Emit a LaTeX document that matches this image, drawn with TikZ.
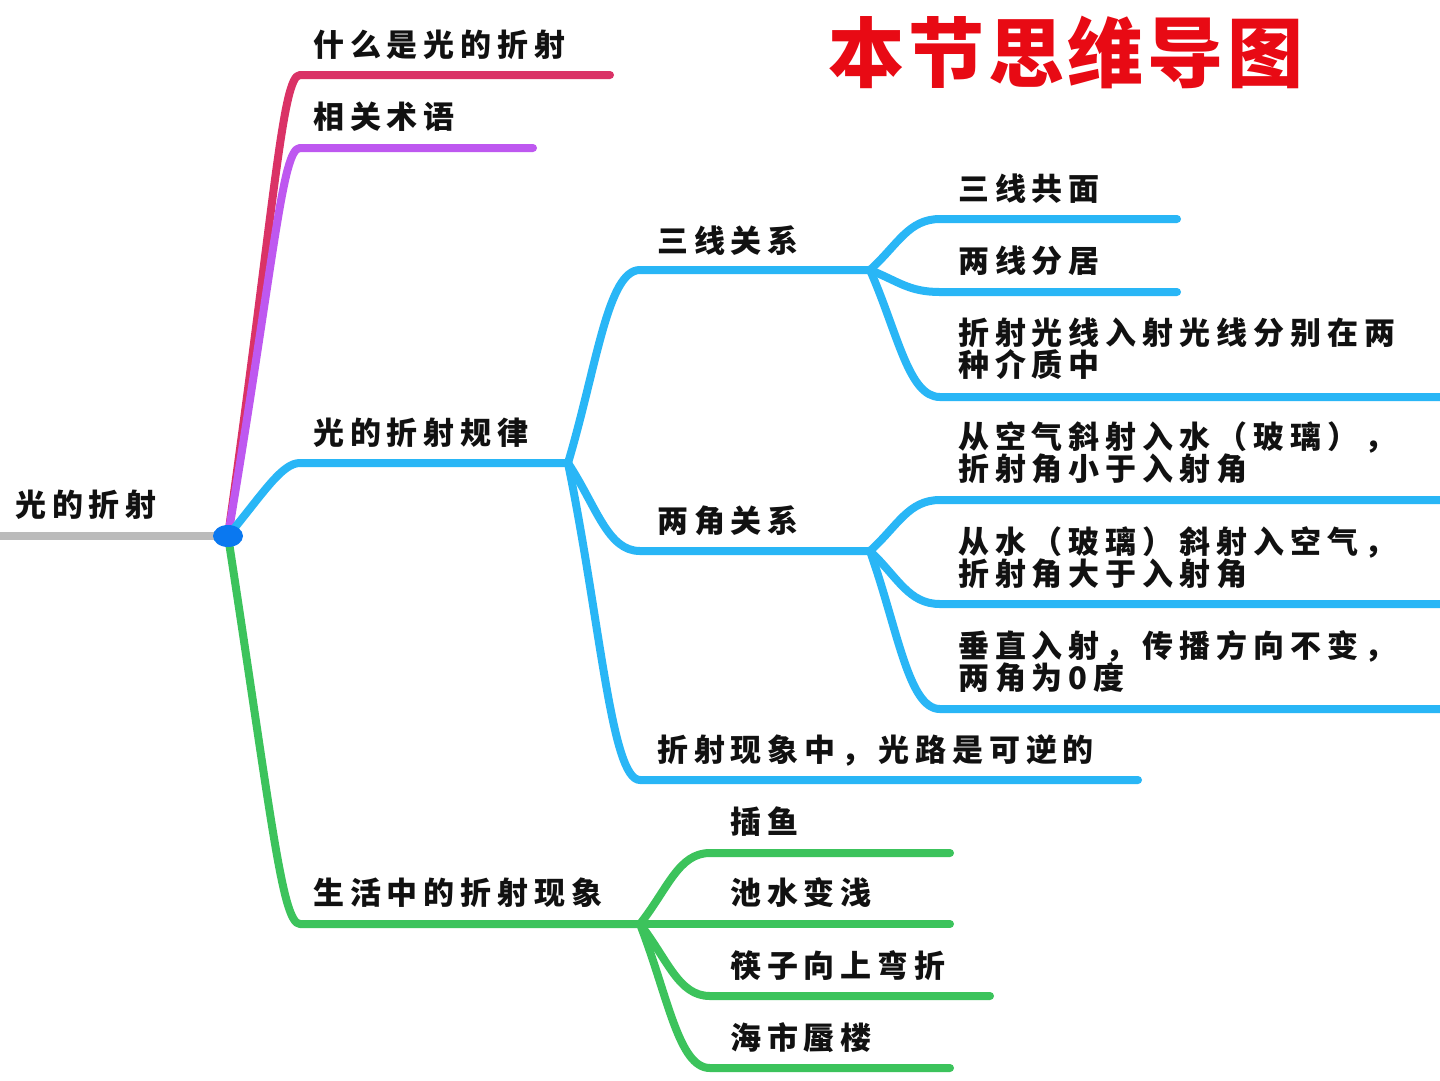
\documentclass[tikz,border=0pt]{standalone}
\usepackage{fontspec}
\usetikzlibrary{calc,shapes.geometric}
\newfontfamily\cjk[LetterSpace=19]{Noto Sans CJK SC}
\newfontfamily\cjktitle[LetterSpace=5]{Noto Sans CJK SC}
\definecolor{cred}{RGB}{218,50,102}
\definecolor{cpurple}{RGB}{190,88,240}
\definecolor{cblue}{RGB}{41,182,246}
\definecolor{cgreen}{RGB}{60,195,92}
\definecolor{cgray}{RGB}{187,187,187}
\definecolor{cdot}{RGB}{10,120,240}
\definecolor{ctitle}{RGB}{232,10,20}
\definecolor{ctext}{RGB}{17,17,17}
\tikzset{
  br/.style={line width=8pt, line cap=round, line join=round},
  lbl/.style={anchor=west, inner sep=0pt, font=\cjk\bfseries\fontsize{31}{32}\selectfont, align=left, text=ctext},
  rootdot/.style={ellipse, fill=cdot, minimum width=30pt, minimum height=22pt, inner sep=0pt},
}
\newcommand\mmbranch[7]{%
  \draw[br,#1] let \p1=(#2), \p2=(#3) in (#2) .. controls ({\x1+#5*(\x2-\x1)},{\y1+#6*(\y2-\y1)}) and ({\x1+#7*(\x2-\x1)},{\y2}) .. (#3) -- (#4);}
\begin{document}
\begin{tikzpicture}[x=1pt,y=-1pt]
\useasboundingbox (0,0) rectangle (1440,1080);
\fill[white] (0,0) rectangle (1440,1080);
% coordinates
\coordinate (root) at (228,536);
\coordinate (L0) at (0,536);
\coordinate (a1) at (300,75);   \coordinate (a1e) at (610,75);
\coordinate (a2) at (300,148);  \coordinate (a2e) at (533,148);
\coordinate (a3) at (300,463);  \coordinate (a3e) at (568,463);
\coordinate (a4) at (300,924);  \coordinate (a4e) at (640,924);
\coordinate (b1) at (640,270);  \coordinate (b1e) at (870,270);
\coordinate (b2) at (640,551);  \coordinate (b2e) at (870,551);
\coordinate (b3) at (640,780);  \coordinate (b3e) at (1138,780);
\coordinate (c1) at (940,219);  \coordinate (c1e) at (1177,219);
\coordinate (c2) at (940,292);  \coordinate (c2e) at (1177,292);
\coordinate (c3) at (940,397);  \coordinate (c3e) at (1440,397);
\coordinate (c4) at (940,500);  \coordinate (c4e) at (1440,500);
\coordinate (c5) at (940,604);  \coordinate (c5e) at (1440,604);
\coordinate (c6) at (940,709);  \coordinate (c6e) at (1440,709);
\coordinate (g1) at (710,853);  \coordinate (g1e) at (950,853);
\coordinate (g2e) at (950,924);
\coordinate (g3) at (710,996);  \coordinate (g3e) at (990,996);
\coordinate (g4) at (710,1068); \coordinate (g4e) at (950,1068);
% lines
\draw[line width=8pt, cgray] (L0) -- (root);
\mmbranch{cred}{root}{a1}{a1e}{0.65}{0.72}{0.75}
\mmbranch{cpurple}{root}{a2}{a2e}{0.65}{0.72}{0.75}
\mmbranch{cblue}{root}{a3}{a3e}{0.5}{0.6}{0.75}
\mmbranch{cgreen}{root}{a4}{a4e}{0.6}{0.72}{0.75}
% blue sub
\mmbranch{cblue}{a3e}{b1}{b1e}{0.4}{0.5}{0.55}
\mmbranch{cblue}{a3e}{b2}{b2e}{0.4}{0.5}{0.55}
\mmbranch{cblue}{a3e}{b3}{b3e}{0.45}{0.5}{0.6}
\mmbranch{cblue}{b1e}{c1}{c1e}{0.4}{0.5}{0.55}
\mmbranch{cblue}{b1e}{c2}{c2e}{0.4}{0.5}{0.55}
\mmbranch{cblue}{b1e}{c3}{c3e}{0.4}{0.5}{0.55}
\mmbranch{cblue}{b2e}{c4}{c4e}{0.4}{0.5}{0.55}
\mmbranch{cblue}{b2e}{c5}{c5e}{0.4}{0.5}{0.55}
\mmbranch{cblue}{b2e}{c6}{c6e}{0.4}{0.5}{0.55}
% green sub
\mmbranch{cgreen}{a4e}{g1}{g1e}{0.4}{0.5}{0.55}
\draw[br,cgreen] (a4e) -- (g2e);
\mmbranch{cgreen}{a4e}{g3}{g3e}{0.4}{0.5}{0.55}
\mmbranch{cgreen}{a4e}{g4}{g4e}{0.4}{0.5}{0.55}
\node[rootdot] (rootn) at (root) {};
% labels
\node[lbl] (t0) at (15,505) {光的折射};
\node[lbl] (t1) at (313,45) {什么是光的折射};
\node[lbl] (t2) at (313,117) {相关术语};
\node[lbl] (t3) at (313,433) {光的折射规律};
\node[lbl] (t4) at (313,893) {生活中的折射现象};
\node[lbl] (t31) at (657,241) {三线关系};
\node[lbl] (t32) at (657,521) {两角关系};
\node[lbl] (t33) at (657,750) {折射现象中，光路是可逆的};
\node[lbl] (t311) at (958,189) {三线共面};
\node[lbl] (t312) at (958,261) {两线分居};
\node[lbl] (t313) at (958,349) {折射光线入射光线分别在两\\种介质中};
\node[lbl] (t321) at (958,453) {从空气斜射入水（玻璃），\\折射角小于入射角};
\node[lbl] (t322) at (958,558) {从水（玻璃）斜射入空气，\\折射角大于入射角};
\node[lbl] (t323) at (958,662) {垂直入射，传播方向不变，\\两角为0度};
\node[lbl] (t41) at (730,822) {插鱼};
\node[lbl] (t42) at (730,893) {池水变浅};
\node[lbl] (t43) at (730,966) {筷子向上弯折};
\node[lbl] (t44) at (730,1038) {海市蜃楼};
% title
\node[inner sep=0pt, text=ctitle, font=\cjktitle\bfseries\fontsize{76}{80}\selectfont] (title) at (1066,52) {本节思维导图};
\end{tikzpicture}
\end{document}
